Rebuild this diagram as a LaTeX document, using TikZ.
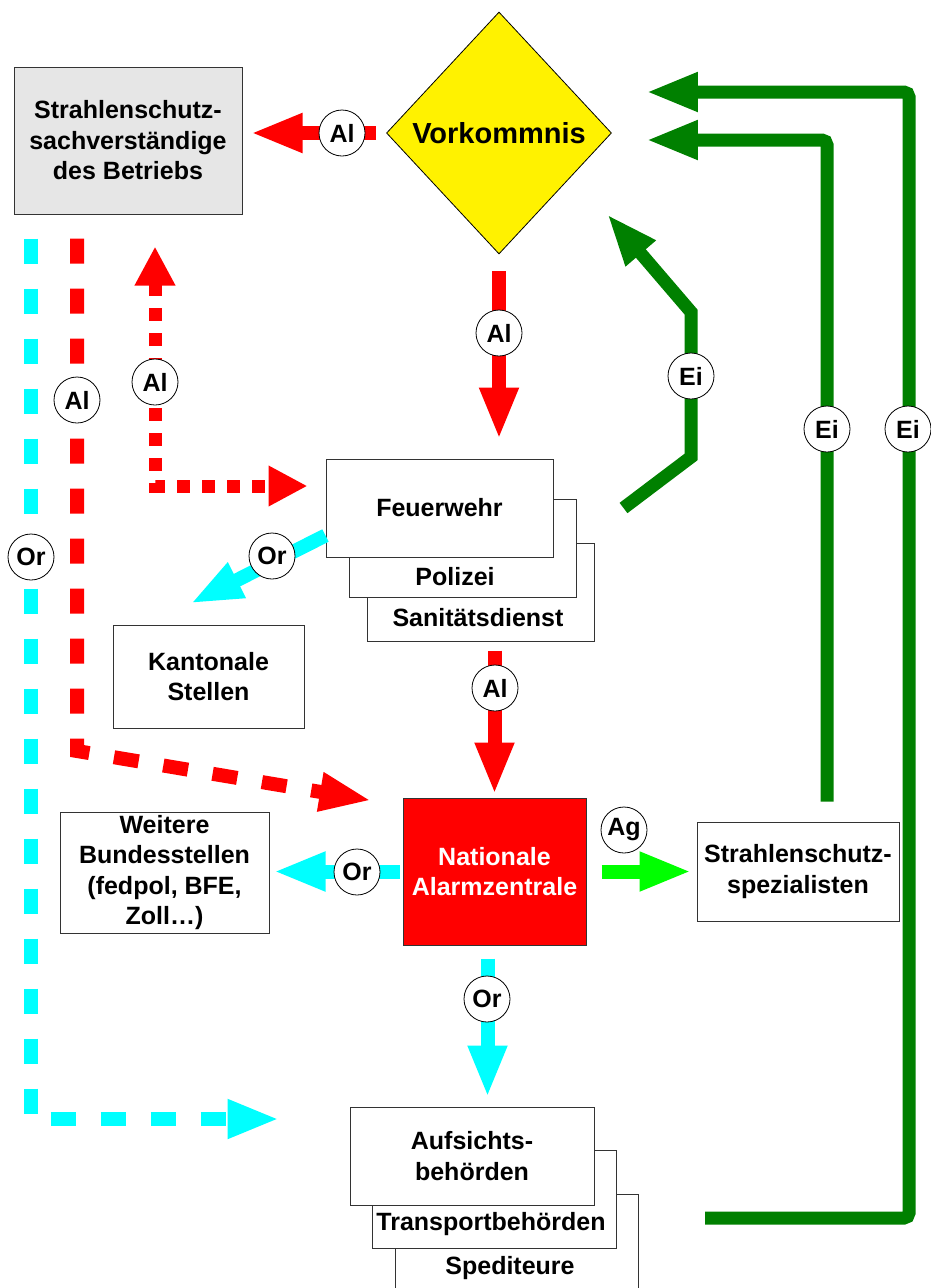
\documentclass[tikz,border=0pt]{standalone}
\usepackage{fontspec}
\setmainfont{Liberation Sans}
\usepackage{tikz}
\usetikzlibrary{arrows.meta,shapes.geometric}

\definecolor{boxgray}{RGB}{230,230,230}
\definecolor{evgreen}{RGB}{0,128,0}
\definecolor{aggreen}{RGB}{0,255,0}
\definecolor{orcyan}{RGB}{0,255,255}
\definecolor{alred}{RGB}{255,0,0}

\begin{document}
\begin{tikzpicture}[x=1pt, y=-1pt,
    box/.style={draw=black!80, line width=1pt, fill=white, align=center, inner sep=0pt,
        font=\bfseries\fontsize{25}{30.5}\selectfont},
    boxtext/.style={inner sep=0pt, font=\bfseries\fontsize{25}{30.5}\selectfont},
    tag/.style={circle, draw=black, line width=0.8pt, fill=white, minimum size=46pt, inner sep=0pt,
        font=\bfseries\fontsize{25}{25}\selectfont},
    head/.style={-{Triangle[length=52pt,width=36pt]}},
    alarm/.style={alred, line width=14pt, head},
    orient/.style={orcyan, line width=14pt, head},
    event/.style={evgreen, line width=13pt, head}]

    \useasboundingbox (0,0) rectangle (930,1288);

    % Draw the event and the boxes
    \node[diamond, draw=black, line width=0.8pt, fill=yellow, inner sep=0pt, shape aspect=0.93,
        minimum width=225pt, minimum height=242pt, font=\bfseries\fontsize{29}{29}\selectfont]
        (vork) at (499,133) {Vorkommnis};
    \node[box, fill=boxgray, minimum width=228pt, minimum height=147pt] (ssv) at (128,140.5)
        {Strahlenschutz-\\sachverständige\\des Betriebs};

    \node[box, minimum width=227pt, minimum height=98pt] (san) at (480.5,592) {};
    \node[box, minimum width=227pt, minimum height=98pt] (pol) at (462.5,548) {};
    \node[box, minimum width=227pt, minimum height=98pt] (fw) at (439.5,508) {Feuerwehr};
    \node[boxtext] (polt) at (455,577) {Polizei};
    \node[boxtext] (sant) at (478,618) {Sanitätsdienst};

    \node[box, minimum width=191pt, minimum height=103pt] (kant) at (208.5,676.5) {Kantonale\\Stellen};
    \node[box, minimum width=209pt, minimum height=121pt] (wbs) at (164.5,872.5)
        {Weitere\\Bundesstellen\\(fedpol, BFE,\\Zoll…)};
    \node[box, fill=alred, text=white, minimum width=183pt, minimum height=147pt] (naz) at (494.5,871.5)
        {Nationale\\Alarmzentrale};
    \node[box, minimum width=202pt, minimum height=99pt] (ssp) at (798,871.5) {Strahlenschutz-\\spezialisten};

    \node[box, minimum width=243pt, minimum height=98pt] (spd) at (516.5,1243) {};
    \node[box, minimum width=244pt, minimum height=98pt] (trp) at (494,1199) {};
    \node[box, minimum width=244pt, minimum height=98pt] (auf) at (472,1156) {Aufsichts-\\behörden};
    \node[boxtext] (trpt) at (491,1224) {Transportbehörden};
    \node[boxtext] (spdt) at (510,1268) {Spediteure};

    % Bends of the long connectors
    \coordinate (rbend) at (77,751);
    \coordinate (cbend) at (31,1119);
    \coordinate (dbend) at (155,486);
    \coordinate (g1a) at (691,457);
    \coordinate (g1b) at (691,312);
    \coordinate (g1c) at (607,214);
    \coordinate (g2) at (827,140);
    \coordinate (g3a) at (705,1218);
    \coordinate (g3b) at (909,1218);
    \coordinate (g3c) at (909,92);

    % Alarm (red)
    \draw[alarm, shorten <=10pt, shorten >=8pt] (vork.west) -- (vork.west -| ssv.east);
    \draw[alarm, shorten <=17pt, shorten >=19pt] (vork.south) -- (vork.south |- fw.north);
    \draw[alarm, shorten <=9pt, shorten >=3pt] (naz.north |- san.south) -- (naz.north);
    \draw[alarm, dash pattern=on 25pt off 25pt, shorten <=24pt]
        ([xshift=-51pt]ssv.south) -- (rbend) -- ([xshift=-31pt,yshift=-3pt]naz.north west);
    \draw[alred, line width=13pt, dash pattern=on 13pt off 12pt,
        {Triangle[length=39pt,width=38pt]}-{Triangle[length=39pt,width=38pt]},
        shorten <=32pt, shorten >=18pt] ([xshift=27pt]ssv.south) -- (dbend) -- ([yshift=22pt]fw.west);

    % Orientation (cyan)
    \draw[orient, shorten <=13pt, shorten >=9pt] ([xshift=-7pt]naz.south) -- ([xshift=-7pt]naz.south |- auf.north);
    \draw[orient, shorten <=3pt, shorten >=4pt] (naz.west) -- (naz.west -| wbs.east);
    \draw[orient] ([yshift=22pt]fw.south west) -- ([xshift=-18pt,yshift=21pt]kant.north);
    \draw[orient, dash pattern=on 25pt off 25pt, shorten <=24pt]
        ([xshift=-97pt]ssv.south) -- (cbend) -- ([xshift=-70pt,yshift=37pt]auf.west);

    % Call of the specialists (light green)
    \draw[aggreen, line width=14pt, head, shorten <=15pt, shorten >=5pt] (naz.east) -- (naz.east -| ssp.west);

    % Intervention (green)
    \draw[event] ([xshift=70pt]fw.east) -- (g1a) -- (g1b) -- (g1c);
    \draw[event, rounded corners=5pt, shorten <=20pt] ([xshift=29pt]ssp.north) -- (g2)
        -- ([xshift=34pt,yshift=-7pt]vork.east);
    \draw[event, rounded corners=5pt] (g3a) -- (g3b) -- (g3c) -- ([xshift=34pt,yshift=41pt]vork.east);

    % Label the connectors
    \node[tag] (al1) at (342,133) {Al};
    \node[tag] (al2) at (499,333) {Al};
    \node[tag] (al3) at (495,688) {Al};
    \node[tag] (al4) at (77,400) {Al};
    \node[tag] (al5) at (155,382) {Al};
    \node[tag] (or1) at (487,999) {Or};
    \node[tag] (or2) at (357,872) {Or};
    \node[tag] (or3) at (272,556) {Or};
    \node[tag] (or4) at (31,557) {Or};
    \node[tag] (ag1) at (624,830) {Ag};
    \node[tag] (ei1) at (691,376) {Ei};
    \node[tag] (ei2) at (827,429) {Ei};
    \node[tag] (ei3) at (908,429) {Ei};

\end{tikzpicture}
\end{document}
